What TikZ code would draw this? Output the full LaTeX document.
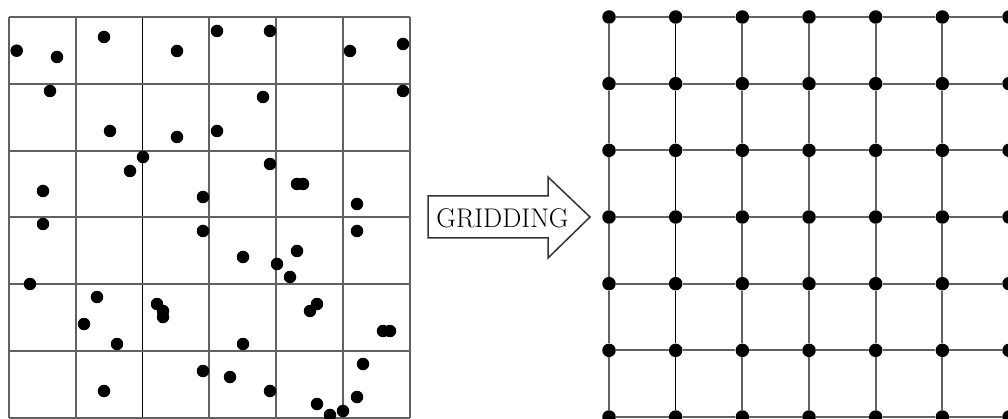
\documentclass[tikz,border=0pt]{standalone}
\usetikzlibrary{calc}
\begin{document}
\begin{tikzpicture}[x=1pt,y=-1pt,
  gridline/.style={line width=2pt, black!62},
  thinline/.style={line width=1.2pt, black},
  dot/.style={circle, fill=black, inner sep=0pt, minimum size=12.5pt},
  gdot/.style={circle, fill=black, inner sep=0pt, minimum size=13.5pt},
  arrowbox/.style={line width=1.5pt, black!80, fill=white, line join=miter},
  lbl/.style={font=\fontsize{27}{32}\selectfont, inner sep=0pt, anchor=base}]
\useasboundingbox (0,0) rectangle (1008,419);
% left grid
\foreach \i in {0,...,6}{
  \coordinate (lt\i) at ({9+66.83*\i},17);
  \coordinate (lb\i) at ({9+66.83*\i},418);
  \coordinate (ll\i) at (9,{17+66.83*\i});
  \coordinate (lr\i) at (410,{17+66.83*\i});
}
\foreach \i in {0,1,3,4,5,6}{
  \draw[gridline] (lt\i) -- (lb\i);
}
\draw[thinline] (lt2) -- (lb2);
\foreach \i in {0,...,6}{
  \draw[gridline] (ll\i) -- (lr\i);
}
% scattered points
\foreach \x/\y [count=\k] in {
  16.7/50.7, 57/57, 104/37, 177/51, 50/91, 110/131, 177/137, 143/157,
  130/171, 43/191, 203/197, 217/31, 270/31, 350/51, 403/44, 403/91,
  263/97, 217/131, 270/164, 297/184, 303/184, 357/204, 43/224, 203/231,
  30/284, 97/297, 84/324, 117/344, 157/304, 163/311, 163/317, 203/371,
  104/391, 357/231, 243/257, 277/264, 297/251, 290/277, 310/311, 317/304,
  243/344, 383/331, 390/331, 230/377, 270/391, 363/364, 357/397, 317/404,
  343/411, 330/415}{
  \node[dot] (p\k) at (\x,\y) {};
}
% arrow
\coordinate (a1) at (428,196);
\coordinate (a2) at (548,196);
\coordinate (a3) at (548,177);
\coordinate (a4) at (590,217);
\coordinate (a5) at (548,258);
\coordinate (a6) at (548,238);
\coordinate (a7) at (428,238);
\draw[arrowbox] (a1) -- (a2) -- (a3) -- (a4) -- (a5) -- (a6) -- (a7) -- cycle;
\node[lbl] (gridding) at (502.5,228) {GRIDDING};
% right grid
\foreach \i in {0,...,6}{
  \foreach \j in {0,...,6}{
    \node[gdot] (g\i\j) at ({609+66.67*\i},{17+66.67*\j}) {};
  }
}
\foreach \i in {0,...,6}{
  \foreach \j [evaluate=\j as \jn using int(\j+1)] in {0,...,5}{
    \draw[gridline] (g\j\i) -- (g\jn\i);
  }
}
\foreach \i in {0,2,3,4,5,6}{
  \foreach \j [evaluate=\j as \jn using int(\j+1)] in {0,...,5}{
    \draw[gridline] (g\i\j) -- (g\i\jn);
  }
}
\foreach \j [evaluate=\j as \jn using int(\j+1)] in {0,...,5}{
  \draw[thinline] (g1\j) -- (g1\jn);
}
\end{tikzpicture}
\end{document}
